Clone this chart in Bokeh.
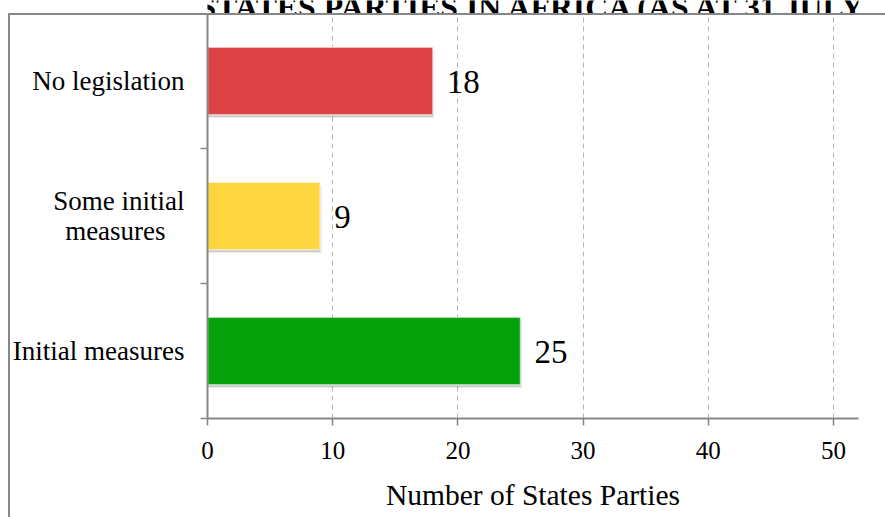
from bokeh.plotting import figure
from bokeh.layouts import column
from bokeh.models import Range1d, FixedTicker, Label, ColumnDataSource, InlineStyleSheet
from bokeh.embed import file_html
from bokeh.resources import INLINE
from bokeh.core.properties import value

# Legislative status of States Parties in Africa
categories = ["Initial measures", "Some initial\nmeasures\u2002\u2009", "No legislation"]
counts = [25, 9, 18]
bar_colors = ["#05A20B", "#FFD53F", "#DD4246"]
x_ticks = [0, 10, 20, 30, 40, 50]
grid_ticks = [10, 20, 30, 40, 50]
title_text = "STATES PARTIES IN AFRICA (AS AT 31 JULY"
x_label = "Number of States Parties"

FONT = "Liberation Serif"
AXIS_GREY = "#878787"

# one band per category on a numeric y scale: centres at i + 0.5, boundaries at integers
y_centres = [i + 0.5 for i in range(len(categories))]
y_bounds = [i for i in range(len(categories) + 1)]

src = ColumnDataSource(dict(
    y=y_centres,
    count=counts,
    color=bar_colors,
    label=[str(c) for c in counts],
    shadow_y=[y - 0.022 for y in y_centres],
    shadow_right=[c + 0.12 for c in counts],
))

# ---- title strip: a bare figure whose frame fills its whole canvas ----
head = figure(
    width=885, height=13,
    output_backend="svg", toolbar_location=None,
    x_axis_location=None, y_axis_location=None,
    min_border=0, x_range=Range1d(0, 1), y_range=Range1d(0, 1),
)
head.outline_line_color = None
head.grid.visible = False
head.add_layout(Label(
    x=198, y=7, x_units="canvas", y_units="canvas",
    text=title_text, text_font=FONT, text_font_style="bold",
    text_font_size="31.8px", text_color="black", text_baseline="alphabetic",
))

# ---- main bar chart ----
p = figure(
    width=885, height=504,
    output_backend="svg", toolbar_location=None,
    x_range=Range1d(0, 52), y_range=Range1d(0, len(categories)),
    min_border_left=207, min_border_right=27,
    min_border_top=0, min_border_bottom=99,
)
p.outline_line_color = None
p.background_fill_color = "white"
p.border_fill_color = "white"

# chart-area border (left and top edges; the rest runs off the page)
p.stylesheets = [InlineStyleSheet(css="""
:host { position: relative; }
:host::after {
  content: "";
  position: absolute;
  left: 8px; top: 0px;
  width: 877px; height: 504px;
  box-sizing: border-box;
  border-left: 2px solid #878787;
  border-top: 2px solid #878787;
  pointer-events: none;
  z-index: 10;
}
""")]

# soft drop shadow under each bar
p.hbar(y="shadow_y", left=0, right="shadow_right", height=0.5, source=src,
       fill_color="#000000", fill_alpha=0.10, line_color=None)
p.hbar(y="shadow_y", left=0, right="count", height=0.49, source=src,
       fill_color="#000000", fill_alpha=0.12, line_color=None)

# bars
p.hbar(y="y", left=0, right="count", height=0.5, source=src,
       fill_color="color", line_color="white", line_alpha=0.55, line_width=1.5)

# value labels
p.text(x="count", y="y", text="label", source=src,
       x_offset=14, y_offset=1, text_baseline="middle", text_align="left",
       text_font=value(FONT), text_font_size="33px", text_color="black")

# x axis
xa = p.xaxis[0]
xa.ticker = FixedTicker(ticks=x_ticks)
xa.axis_line_color = AXIS_GREY
xa.axis_line_width = 2
xa.major_tick_line_color = AXIS_GREY
xa.major_tick_line_width = 1.5
xa.major_tick_out = 7
xa.major_tick_in = 0
xa.minor_tick_line_color = None
xa.major_label_text_font = FONT
xa.major_label_text_font_size = "25px"
xa.major_label_text_color = "black"
xa.major_label_standoff = 16
xa.axis_label = x_label
xa.axis_label_text_font = FONT
xa.axis_label_text_font_size = "29.5px"
xa.axis_label_text_font_style = "normal"
xa.axis_label_text_color = "black"
xa.axis_label_standoff = 17

# y axis: labels at band centres, ticks at band boundaries
ya = p.yaxis[0]
ya.ticker = FixedTicker(ticks=y_centres, minor_ticks=y_bounds)
ya.major_label_overrides = {y: c for y, c in zip(y_centres, categories)}
ya.axis_line_color = AXIS_GREY
ya.axis_line_width = 2
ya.major_tick_line_color = None
ya.major_tick_out = 0
ya.major_tick_in = 0
ya.minor_tick_line_color = AXIS_GREY
ya.minor_tick_line_width = 1.5
ya.minor_tick_out = 7
ya.minor_tick_in = 0
ya.major_label_text_font = FONT
ya.major_label_text_font_size = "27px"
ya.major_label_text_line_height = 1.0
ya.major_label_text_color = "black"
ya.major_label_standoff = 16

# dashed vertical grid
p.xgrid.ticker = FixedTicker(ticks=grid_ticks)
p.xgrid.grid_line_color = "#B5B5B5"
p.xgrid.grid_line_dash = "5 4"
p.xgrid.grid_line_width = 1
p.ygrid.visible = False

layout = column(head, p, spacing=0)
open("out.html", "w").write(file_html(layout, INLINE))
